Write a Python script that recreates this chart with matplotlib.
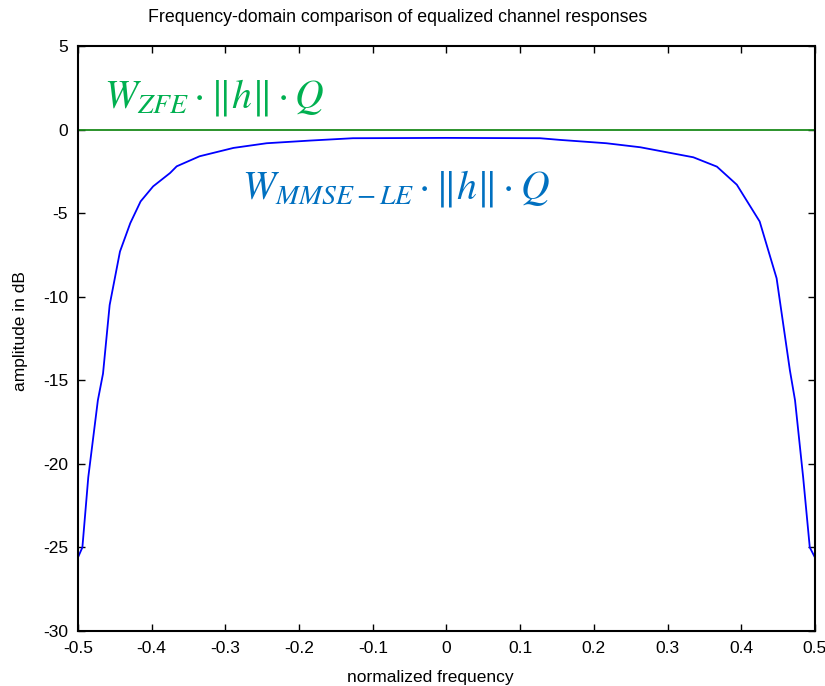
import numpy as np
import matplotlib
matplotlib.use('Agg')
import matplotlib.pyplot as plt

# - Values
freq = [-0.5, -0.494, -0.486, -0.473, -0.466, -0.457, -0.450, -0.443,
        -0.429, -0.415, -0.398, -0.375, -0.366, -0.335, -0.289, -0.244,
        -0.185, -0.127, 0.0, 0.127, 0.154, 0.217, 0.263, 0.335, 0.367,
        0.394, 0.425, 0.448, 0.466, 0.473, 0.484, 0.493, 0.5]
mmse_db = [-25.6, -25.0, -20.8, -16.2, -14.6, -10.5, -8.9, -7.3,
           -5.6, -4.3, -3.4, -2.6, -2.2, -1.6, -1.1, -0.82,
           -0.66, -0.52, -0.5, -0.52, -0.62, -0.82, -1.06, -1.66, -2.22,
           -3.3, -5.5, -8.9, -14.4, -16.2, -20.8, -25.0, -25.6]
zfe_freq = [-0.5, 0.5]
zfe_db = [0.0, 0.0]
xticks = [-0.5, -0.4, -0.3, -0.2, -0.1, 0, 0.1, 0.2, 0.3, 0.4, 0.5]
xticklabels = ['-0.5', '-0.4', '-0.3', '-0.2', '-0.1', '0',
               '0.1', '0.2', '0.3', '0.4', '0.5']
yticks = [-30, -25, -20, -15, -10, -5, 0, 5]

plt.rcParams['font.family'] = ['Liberation Sans', 'DejaVu Sans']
plt.rcParams['axes.unicode_minus'] = False
plt.rcParams['mathtext.fontset'] = 'stix'

fig = plt.figure(figsize=(8.25, 6.86), dpi=100)
ax = fig.add_axes([0.0945, 0.0802, 0.8933, 0.8528])

ax.plot(zfe_freq, zfe_db, color='#1a8a1a', lw=1.3)
ax.plot(freq, mmse_db, color='#0000ff', lw=1.3)

ax.set_xlim(-0.5, 0.5)
ax.set_ylim(-30, 5)
ax.set_xticks(xticks)
ax.set_xticklabels(xticklabels)
ax.set_yticks(yticks)
ax.tick_params(direction='in', top=True, right=True, length=5,
               width=1.0, labelsize=12.5, pad=7)
for sp in ax.spines.values():
    sp.set_linewidth(1.5)

# - Axis labels (slightly off-centre, as in the reference)
ax.set_xlabel('normalized frequency', fontsize=12.5)
ax.xaxis.set_label_coords((430 - 78) / 737, -0.066)
ax.set_ylabel('amplitude in dB', fontsize=12.5)
ax.yaxis.set_label_coords(-0.068, (631 - 331) / 585)
fig.text(398 / 825, 1 - 17 / 686,
         'Frequency-domain comparison of equalized channel responses',
         ha='center', va='center', fontsize=12.8)

# - Equalizer labels
ax.text(-0.465, 1.3, r'$W_{ZFE}\cdot\Vert h\Vert\cdot Q$',
        color='#00b050', fontsize=28.5, ha='left', va='baseline')
ax.text(-0.277, -4.1, r'$W_{MMSE-LE}\cdot\Vert h\Vert\cdot Q$',
        color='#0070c0', fontsize=28.5, ha='left', va='baseline')

plt.savefig('out.png', dpi=100)
plt.close()
